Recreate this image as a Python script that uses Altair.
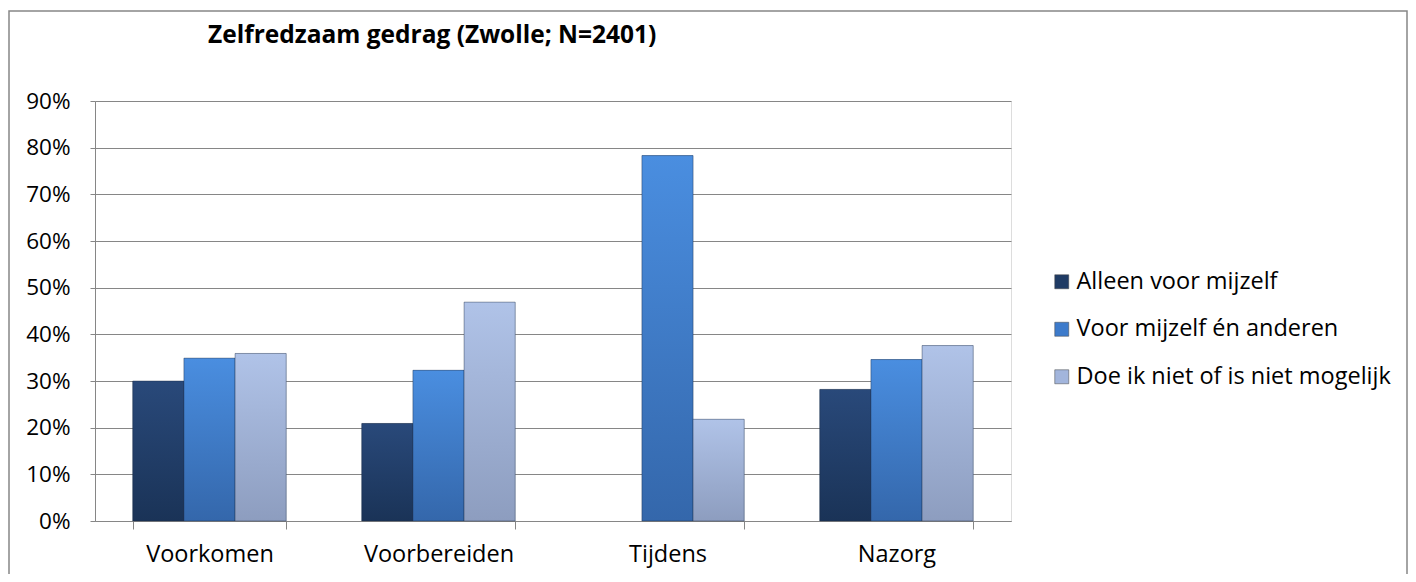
import altair as alt
import pandas as pd

categories = ["Voorkomen", "Voorbereiden", "Tijdens", "Nazorg"]
series = ["Alleen voor mijzelf", "Voor mijzelf én anderen", "Doe ik niet of is niet mogelijk"]
alleen = [0.30, 0.209, 0.0, 0.282]
samen = [0.349, 0.323, 0.783, 0.346]
niet = [0.359, 0.469, 0.218, 0.376]
colors = ["#1F3B64", "#3D7BCB", "#A2B5DC"]
grad_top = ["#29497a", "#4a8ee0", "#b0c3e8"]
grad_bottom = ["#1a3357", "#3467ab", "#8d9dbf"]
y_ticks = [0, 0.1, 0.2, 0.3, 0.4, 0.5, 0.6, 0.7, 0.8, 0.9]
title_text = "Zelfredzaam gedrag (Zwolle; N=2401)"

rows = []
for s, vals in zip(series, [alleen, samen, niet]):
    for c, v in zip(categories, vals):
        rows.append({"categorie": c, "reeks": s, "waarde": v})
df = pd.DataFrame(rows)

FONT = "Open Sans"

x_enc = alt.X("categorie:N", sort=categories, title=None,
              scale=alt.Scale(domain=categories, paddingInner=0.33, paddingOuter=0.165),
              axis=alt.Axis(labelAngle=0, tickBand="extent", tickSize=8, labelPadding=13,
                            labelFontSize=23.5, labelFont=FONT, labelColor="#000000",
                            domainColor="#868686", tickColor="#868686", grid=False))
xo_enc = alt.XOffset("reeks:N", sort=series, scale=alt.Scale(domain=series))
y_enc = alt.Y("waarde:Q", title=None,
              scale=alt.Scale(domain=[0, 0.9], nice=False),
              axis=alt.Axis(values=y_ticks, format=".0%", tickSize=5, labelPadding=20,
                            labelFontSize=22.5, labelFont=FONT, labelColor="#000000",
                            domainColor="#868686", tickColor="#868686",
                            gridColor="#868686", gridWidth=1))

base = alt.Chart(df).mark_bar(strokeWidth=0).encode(
    x=x_enc, xOffset=xo_enc, y=y_enc,
    color=alt.Color("reeks:N", sort=series, title=None,
                    scale=alt.Scale(domain=series, range=colors),
                    legend=alt.Legend(orient="none", legendX=955, legendY=169,
                                      symbolType="square", symbolSize=196,
                                      symbolStrokeColor="#444444", symbolStrokeWidth=0.5,
                                      labelFontSize=23.5, labelFont=FONT, labelColor="#000000",
                                      rowPadding=22.5, labelOffset=3, labelLimit=400)),
)

overlays = []
for s, top, bottom in zip(series, grad_top, grad_bottom):
    grad = alt.Gradient(gradient="linear",
                        stops=[alt.GradientStop(color=top, offset=0),
                               alt.GradientStop(color=bottom, offset=1)],
                        x1=0, x2=0, y1=0, y2=1)
    overlays.append(
        alt.Chart(df).transform_filter(
            (alt.datum.reeks == s) & (alt.datum.waarde > 0)
        ).mark_bar(color=grad, stroke="#1b2a40", strokeWidth=0.8, strokeOpacity=0.5).encode(
            x=x_enc, xOffset=xo_enc, y=y_enc
        )
    )

border = alt.Chart(alt.Data(values=[{}])).mark_rect(fill=None, stroke="#868686", strokeWidth=1.5).encode(
    x=alt.value(-86), x2=alt.value(1312), y=alt.value(-90), y2=alt.value(485)
)

title = alt.Chart(alt.Data(values=[{"t": title_text}])).mark_text(
    font=FONT, fontSize=24.5, fontWeight="bold", color="#000000", align="left", baseline="alphabetic"
).encode(x=alt.value(113), y=alt.value(-58), text="t:N")

chart = alt.layer(border, base, *overlays, title).properties(
    width=916, height=420,
    autosize=alt.AutoSizeParams(type="none"),
    padding={"left": 87, "top": 93, "right": 397, "bottom": 53},
).configure_view(stroke=None).configure(background="#ffffff")

chart.save("out.html", embed_options={"renderer": "svg", "actions": False})
